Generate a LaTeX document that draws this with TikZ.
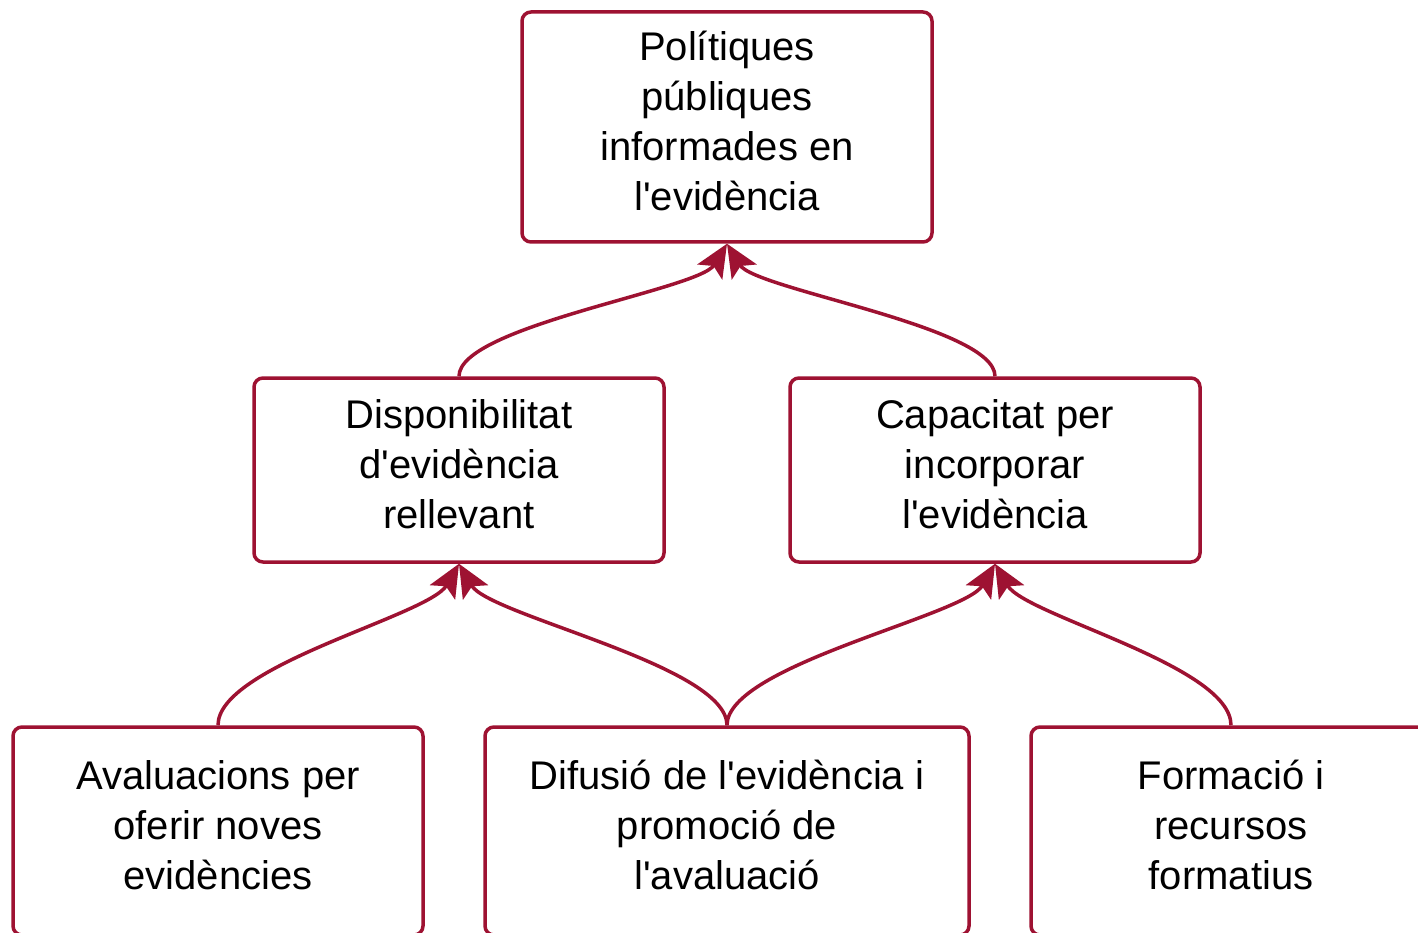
\documentclass[tikz,border=0pt]{standalone}
\usepackage{fontspec}
\setmainfont{Liberation Sans}
\usetikzlibrary{arrows.meta}
\definecolor{wine}{RGB}{158,18,50}
\newcommand{\ap}{\textquotesingle}
\begin{document}
\begin{tikzpicture}[x=1pt,y=-1pt,
  box/.style={draw=wine, line width=3.5pt, rounded corners=9pt, fill=white,
    minimum width=410pt, inner sep=0pt},
  txt/.style={align=center, inner sep=0pt, font=\fontsize{40pt}{50pt}\selectfont},
  link/.style={draw=wine, line width=3.5pt,
    -{Stealth[length=33pt,width=29pt,inset=7pt]}}]
\clip (0,0) rectangle (1418,933);
\fill[white] (0,0) rectangle (1418,933);
\node[box, minimum height=230pt] (top) at (727,127) {};
\node[box, minimum height=184pt] (ml) at (459,470) {};
\node[box, minimum height=184pt] (mr) at (995,470) {};
\node[box, minimum height=208pt] (bl) at (218,831) {};
\node[box, minimum height=208pt, minimum width=484pt] (bm) at (727,831) {};
\node[box, minimum height=208pt, minimum width=400pt] (br) at (1231,831) {};
\node[txt] (topt) at ([yshift=6]top.center) {Polítiques\\públiques\\informades en\\l\ap evidència};
\node[txt] (mlt) at ([yshift=6]ml.center) {Disponibilitat\\d\ap evidència\\rellevant};
\node[txt] (mrt) at ([yshift=6]mr.center) {Capacitat per\\incorporar\\l\ap evidència};
\node[txt] (blt) at ([yshift=6]bl.center) {Avaluacions per\\oferir noves\\evidències};
\node[txt] (bmt) at ([yshift=6]bm.center) {Difusió de l\ap evidència i\\promoció de\\l\ap avaluació};
\node[txt] (brt) at ([yshift=6]br.center) {Formació i\\recursos\\formatius};
\draw[link] (ml.north) .. controls ++(0,-50) and ++(-28,46) .. (top.south);
\draw[link] (mr.north) .. controls ++(0,-50) and ++(28,46) .. (top.south);
\draw[link] (bl.north) .. controls ++(0,-60) and ++(-30,52) .. (ml.south);
\draw[link] (bm.north) .. controls ++(0,-60) and ++(30,52) .. (ml.south);
\draw[link] (bm.north) .. controls ++(0,-60) and ++(-30,52) .. (mr.south);
\draw[link] (br.north) .. controls ++(0,-60) and ++(30,52) .. (mr.south);
\end{tikzpicture}
\end{document}
